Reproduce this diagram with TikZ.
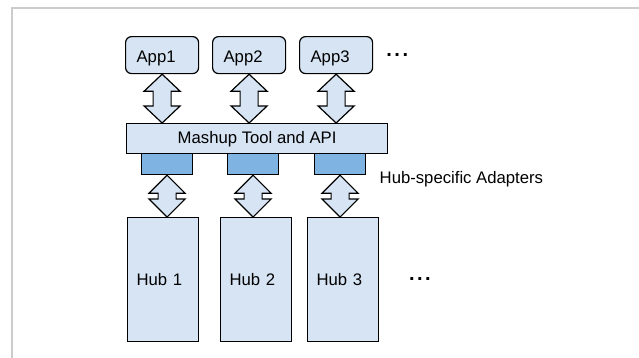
\documentclass[tikz,border=0pt]{standalone}
\usepackage{fontspec}
\setmainfont{Liberation Sans}
\usetikzlibrary{calc}
\definecolor{boxfill}{HTML}{D6E4F3}
\definecolor{adfill}{HTML}{7FB3E2}
\definecolor{framegray}{HTML}{CCCCCC}
\tikzset{
  basebox/.style={draw=black, line width=1.2pt, fill=boxfill, anchor=north west,
    font=\fontsize{16.7pt}{19pt}\selectfont, inner ysep=0pt},
  appbox/.style={basebox, rounded corners=6pt, minimum width=73pt, minimum height=37pt,
    text width=51pt, inner xsep=11pt, align=left, text height=14pt, text depth=0pt},
  hubbox/.style={basebox, minimum width=71pt, minimum height=124pt,
    text width=53pt, inner xsep=9pt, align=left, text height=11.5pt, text depth=0pt},
  mashbox/.style={basebox, minimum width=261pt, minimum height=30pt, inner xsep=0pt,
    align=center, text height=11.5pt, text depth=2.5pt},
  adbox/.style={basebox, fill=adfill, minimum width=51pt, minimum height=21pt, inner sep=0pt},
  arrowstyle/.style={draw=black, line width=1.2pt, fill=boxfill, line join=miter},
  plainlabel/.style={inner sep=0pt, font=\fontsize{16.7pt}{19pt}\selectfont},
  dotslabel/.style={inner sep=0pt, font=\fontsize{20pt}{22pt}\selectfont\bfseries},
}
\newcommand{\dblarrow}[3]{%
  \draw[arrowstyle] let \p1=#1, \p2=#2 in
    (\x1,\y1) -- (\x1+18pt,\y1-#3) -- (\x1+9pt,\y1-#3) -- (\x1+9pt,\y2+#3)
    -- (\x1+18pt,\y2+#3) -- (\x1,\y2) -- (\x1-18pt,\y2+#3) -- (\x1-9pt,\y2+#3)
    -- (\x1-9pt,\y1-#3) -- (\x1-18pt,\y1-#3) -- cycle;}
\begin{document}
\begin{tikzpicture}[x=1pt, y=-1pt]
  \useasboundingbox (0,0) rectangle (639,357);
  \fill[white] (0,0) rectangle (639,357);
  \draw[framegray, line width=2pt] (12,365) -- (12,8) -- (650,8);

  \node[appbox] (app1) at (125,36) {App1};
  \node[appbox] (app2) at (212,36) {App2};
  \node[appbox] (app3) at (299,36) {App3};
  \node[dotslabel, anchor=base west] (dots1) at (386.2,56.8) {.\kern2.5pt.\kern2.5pt.};

  \node[mashbox] (mash) at (126,123) {Mashup Tool and API};

  \node[adbox] (ad1) at (141,153) {};
  \node[adbox] (ad2) at (227,153) {};
  \node[adbox] (ad3) at (314,153) {};
  \node[plainlabel, anchor=base west] (adlabel) at (379.5,183.5) {Hub-specific Adapters};

  \node[hubbox] (hub1) at (127,217) {Hub 1};
  \node[hubbox] (hub2) at (220,217) {Hub 2};
  \node[hubbox] (hub3) at (307,217) {Hub 3};
  \node[dotslabel, anchor=base west] (dots2) at (408.9,280.7) {.\kern2.5pt.\kern2.5pt.};

  \dblarrow{(app1.south)}{(app1.south |- mash.north)}{17pt}
  \dblarrow{(app2.south)}{(app2.south |- mash.north)}{17pt}
  \dblarrow{(app3.south)}{(app3.south |- mash.north)}{17pt}

  \dblarrow{(ad1.south)}{(ad1.south |- hub1.north)}{18pt}
  \dblarrow{(ad2.south)}{(ad2.south |- hub2.north)}{18pt}
  \dblarrow{(ad3.south)}{(ad3.south |- hub3.north)}{18pt}
\end{tikzpicture}
\end{document}
